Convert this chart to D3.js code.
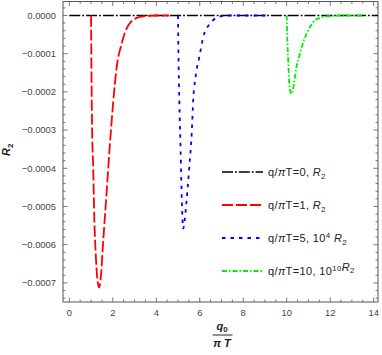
<!DOCTYPE html>
<html><head><meta charset="utf-8">
<script src="https://cdn.jsdelivr.net/npm/d3@7"></script>
<style>body{margin:0;background:#fff}svg{display:block}</style>
</head><body>
<script>
// ---- data ----
const blackX = [0, 14.3];
const blackY = [0, 0];
const redX = [1.0, 1.02, 1.05, 1.10, 1.15, 1.23, 1.29, 1.37, 1.44, 1.56, 1.72, 1.87, 2.0, 2.18, 2.41, 2.71, 3.17, 3.6, 4.0, 4.6];
const redY = [0, -0.00015, -0.0003, -0.0004, -0.00053, -0.00064, -0.00069, -0.000712, -0.00069, -0.00059, -0.00046, -0.000335, -0.00024, -0.000135, -0.000073, -0.000026, -0.000005, -0.000001, 0, 0];
const blueX = [5.0, 5.02, 5.06, 5.12, 5.18, 5.24, 5.3, 5.37, 5.52, 5.63, 5.70, 5.83, 5.98, 6.16, 6.47, 6.85, 7.3, 9.05];
const blueY = [0, -0.0001, -0.00022, -0.000354, -0.00049, -0.000558, -0.00054, -0.0005, -0.000397, -0.000309, -0.000222, -0.000152, -0.000109, -0.0000567, -0.0000217, -0.0000044, 0, 0];
const greenX = [10.0, 10.02, 10.07, 10.11, 10.17, 10.22, 10.27, 10.33, 10.45, 10.61, 10.76, 10.99, 11.22, 11.53, 11.91, 12.4, 13.5];
const greenY = [0, -0.000048, -0.000118, -0.00017, -0.0002, -0.000205, -0.0002, -0.000179, -0.000135, -0.0001, -0.00007, -0.0000392, -0.0000175, -0.000006, -0.000002, 0, 0];
const xTicks = [0, 2, 4, 6, 8, 10, 12, 14];
const yTicks = [0, -0.0001, -0.0002, -0.0003, -0.0004, -0.0005, -0.0006, -0.0007];
const yTickLabels = ["0.0000", "\u22120.0001", "\u22120.0002", "\u22120.0003", "\u22120.0004", "\u22120.0005", "\u22120.0006", "\u22120.0007"];
const legendParams = ["0", "1", "5", "10"];
const legendFactors = ["", "", "4", "10"];

// ---- layout ----
const W = 382, H = 355;
const L = 63, R = 378, T = 1.5, B = 302;
const x = d3.scaleLinear().domain([-0.29, 14.2]).range([L, R]);
const y = d3.scaleLinear().domain([-0.00075, 0.0000366]).range([B, T]);

const svg = d3.select("body").append("svg").attr("width", W).attr("height", H)
  .style("font-family", "'Liberation Sans', Arial, sans-serif");

svg.append("defs").append("clipPath").attr("id", "clip")
  .append("rect").attr("x", L).attr("y", T).attr("width", R - L).attr("height", B - T);

const frameColor = "#555";
// ticks
const xMinor = d3.range(0, 14.01, 0.5).filter(v => !xTicks.includes(v));
const yMinor = d3.range(-74, 4, 2).map(v => v * 1e-5).filter(v => !yTicks.some(t => Math.abs(t - v) < 1e-9));
const tg = svg.append("g").attr("stroke", frameColor).attr("stroke-width", 0.8);
function xt(v, len) {
  tg.append("line").attr("x1", x(v)).attr("x2", x(v)).attr("y1", B).attr("y2", B - len);
  tg.append("line").attr("x1", x(v)).attr("x2", x(v)).attr("y1", T).attr("y2", T + len);
}
function yt(v, len) {
  tg.append("line").attr("y1", y(v)).attr("y2", y(v)).attr("x1", L).attr("x2", L + len);
  tg.append("line").attr("y1", y(v)).attr("y2", y(v)).attr("x1", R).attr("x2", R - len);
}
xTicks.forEach(v => xt(v, 4.5));
xMinor.forEach(v => xt(v, 2.5));
yTicks.forEach(v => yt(v, 4.5));
yMinor.forEach(v => yt(v, 2.5));

// frame
svg.append("rect").attr("x", L).attr("y", T).attr("width", R - L).attr("height", B - T)
  .attr("fill", "none").attr("stroke", frameColor).attr("stroke-width", 1);

// tick labels
svg.append("g").selectAll("text").data(xTicks).join("text")
  .attr("x", d => x(d)).attr("y", 316).attr("text-anchor", "middle")
  .attr("font-size", 9.4).attr("fill", "#444").text(d => d);
svg.append("g").selectAll("text").data(yTicks).join("text")
  .attr("x", 56).attr("y", d => y(d) + 3.3).attr("text-anchor", "end")
  .attr("font-size", 9.4).attr("fill", "#444").text((d, i) => yTickLabels[i]);

// axis labels
const yl = svg.append("text").attr("transform", "translate(10,156) rotate(-90)")
  .attr("font-size", 11).attr("font-weight", "bold").attr("font-style", "italic").attr("fill", "#222");
yl.append("tspan").text("R");
yl.append("tspan").attr("dy", 2.5).attr("font-size", 8).attr("font-style", "normal").text("2");

const xl = svg.append("text").attr("x", 222).attr("y", 330).attr("text-anchor", "middle")
  .attr("font-size", 11).attr("font-weight", "bold").attr("font-style", "italic").attr("fill", "#222");
xl.append("tspan").text("q");
xl.append("tspan").attr("dy", 2).attr("font-size", 8).attr("font-style", "normal").text("0");
svg.append("line").attr("x1", 212.5).attr("x2", 232.5).attr("y1", 335).attr("y2", 335)
  .attr("stroke", "#222").attr("stroke-width", 1);
svg.append("text").attr("x", 222).attr("y", 346.5).attr("text-anchor", "middle")
  .attr("font-size", 11).attr("font-weight", "bold").attr("font-style", "italic").attr("fill", "#222")
  .text("\u03c0 T");

// curves
const series = [
  {xs: blackX, ys: blackY, color: "#000", dash: "11,2,1.8,2", w: 1.5},
  {xs: redX, ys: redY, color: "#ff0000", dash: "11,3", w: 1.8},
  {xs: blueX, ys: blueY, color: "#0000ff", dash: "3.5,5", w: 1.8},
  {xs: greenX, ys: greenY, color: "#00ee00", dash: "5,2,1.5,2", w: 1.8}
];
const line = d3.line().x(d => x(d[0])).y(d => y(d[1])).curve(d3.curveMonotoneX);
const cg = svg.append("g").attr("clip-path", "url(#clip)");
series.forEach(s => {
  cg.append("path").datum(s.xs.map((v, i) => [v, s.ys[i]]))
    .attr("d", line).attr("fill", "none").attr("stroke", s.color)
    .attr("stroke-width", s.w).attr("stroke-dasharray", s.dash);
});

// legend
const legY = [172, 205, 238, 271];
series.forEach((s, i) => {
  svg.append("line").attr("x1", 222).attr("x2", 263).attr("y1", legY[i]).attr("y2", legY[i])
    .attr("stroke", s.color).attr("stroke-width", s.w).attr("stroke-dasharray", s.dash);
  const t = svg.append("text").attr("x", 268).attr("y", legY[i] + 4)
    .attr("font-size", 11).attr("letter-spacing", 0.35).attr("fill", "#222");
  t.append("tspan").text("q/");
  t.append("tspan").attr("font-style", "italic").text("\u03c0");
  t.append("tspan").text("T=" + legendParams[i] + ", ");
  if (legendFactors[i]) {
    t.append("tspan").text("10");
    t.append("tspan").attr("dy", -4.5).attr("font-size", 8).text(legendFactors[i]);
    t.append("tspan").attr("dy", 4.5).text(legendFactors[i] === "4" ? " " : "");
  }
  t.append("tspan").attr("font-style", "italic").text("R");
  t.append("tspan").attr("dy", 2.5).attr("font-size", 8).text("2");
});
</script>
</body></html>
